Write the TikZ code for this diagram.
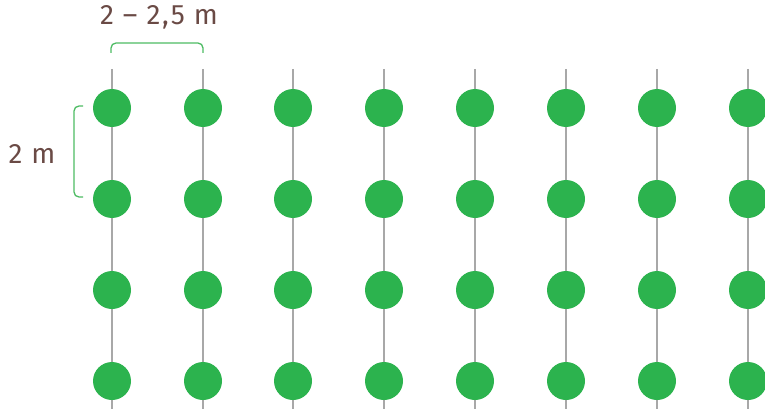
\documentclass[tikz,border=0pt]{standalone}
\usepackage{fontspec}
\setmainfont{Fira Sans}
\newfontfamily\labelfont[LetterSpace=6]{Fira Sans}
\definecolor{dotgreen}{HTML}{2CB34E}
\definecolor{brackgreen}{HTML}{4DBB63}
\definecolor{gridgrey}{HTML}{A8A8A8}
\definecolor{labelbrown}{HTML}{6A4A45}
\tikzset{
  plant/.style={circle, fill=dotgreen, draw=none, minimum size=38pt, inner sep=0pt},
  gridline/.style={draw=gridgrey, line width=1.4pt},
  brace/.style={draw=brackgreen, line width=1.3pt, rounded corners=5pt},
  dimlabel/.style={text=labelbrown, font=\labelfont\fontsize{28}{28}\selectfont, inner sep=0pt}
}
\begin{document}
\begin{tikzpicture}[x=1pt,y=-1pt]
\useasboundingbox (0,0) rectangle (765,409);
\clip (0,0) rectangle (765,409);
\foreach \x [count=\i] in {112,203,293,384,475,566,657,748} {
  \coordinate (top\i) at (\x,69);
  \coordinate (bot\i) at (\x,409);
  \draw[gridline] (top\i) -- (bot\i);
  \foreach \y [count=\j] in {108,199,290,381} {
    \node[plant] (p\i-\j) at (\x,\y) {};
  }
}
\coordinate (tb1) at (111,53);
\coordinate (tb2) at (111,43);
\coordinate (tb3) at (203,43);
\coordinate (tb4) at (203,53);
\draw[brace] (tb1) -- (tb2) -- (tb3) -- (tb4);
\coordinate (lb1) at (83,106);
\coordinate (lb2) at (74,106);
\coordinate (lb3) at (74,197);
\coordinate (lb4) at (83,197);
\draw[brace] (lb1) -- (lb2) -- (lb3) -- (lb4);
\node[dimlabel] (toplabel) at (159,17) {2 – 2,5 m};
\node[dimlabel] (leftlabel) at (32,154) {2 m};
\end{tikzpicture}
\end{document}
